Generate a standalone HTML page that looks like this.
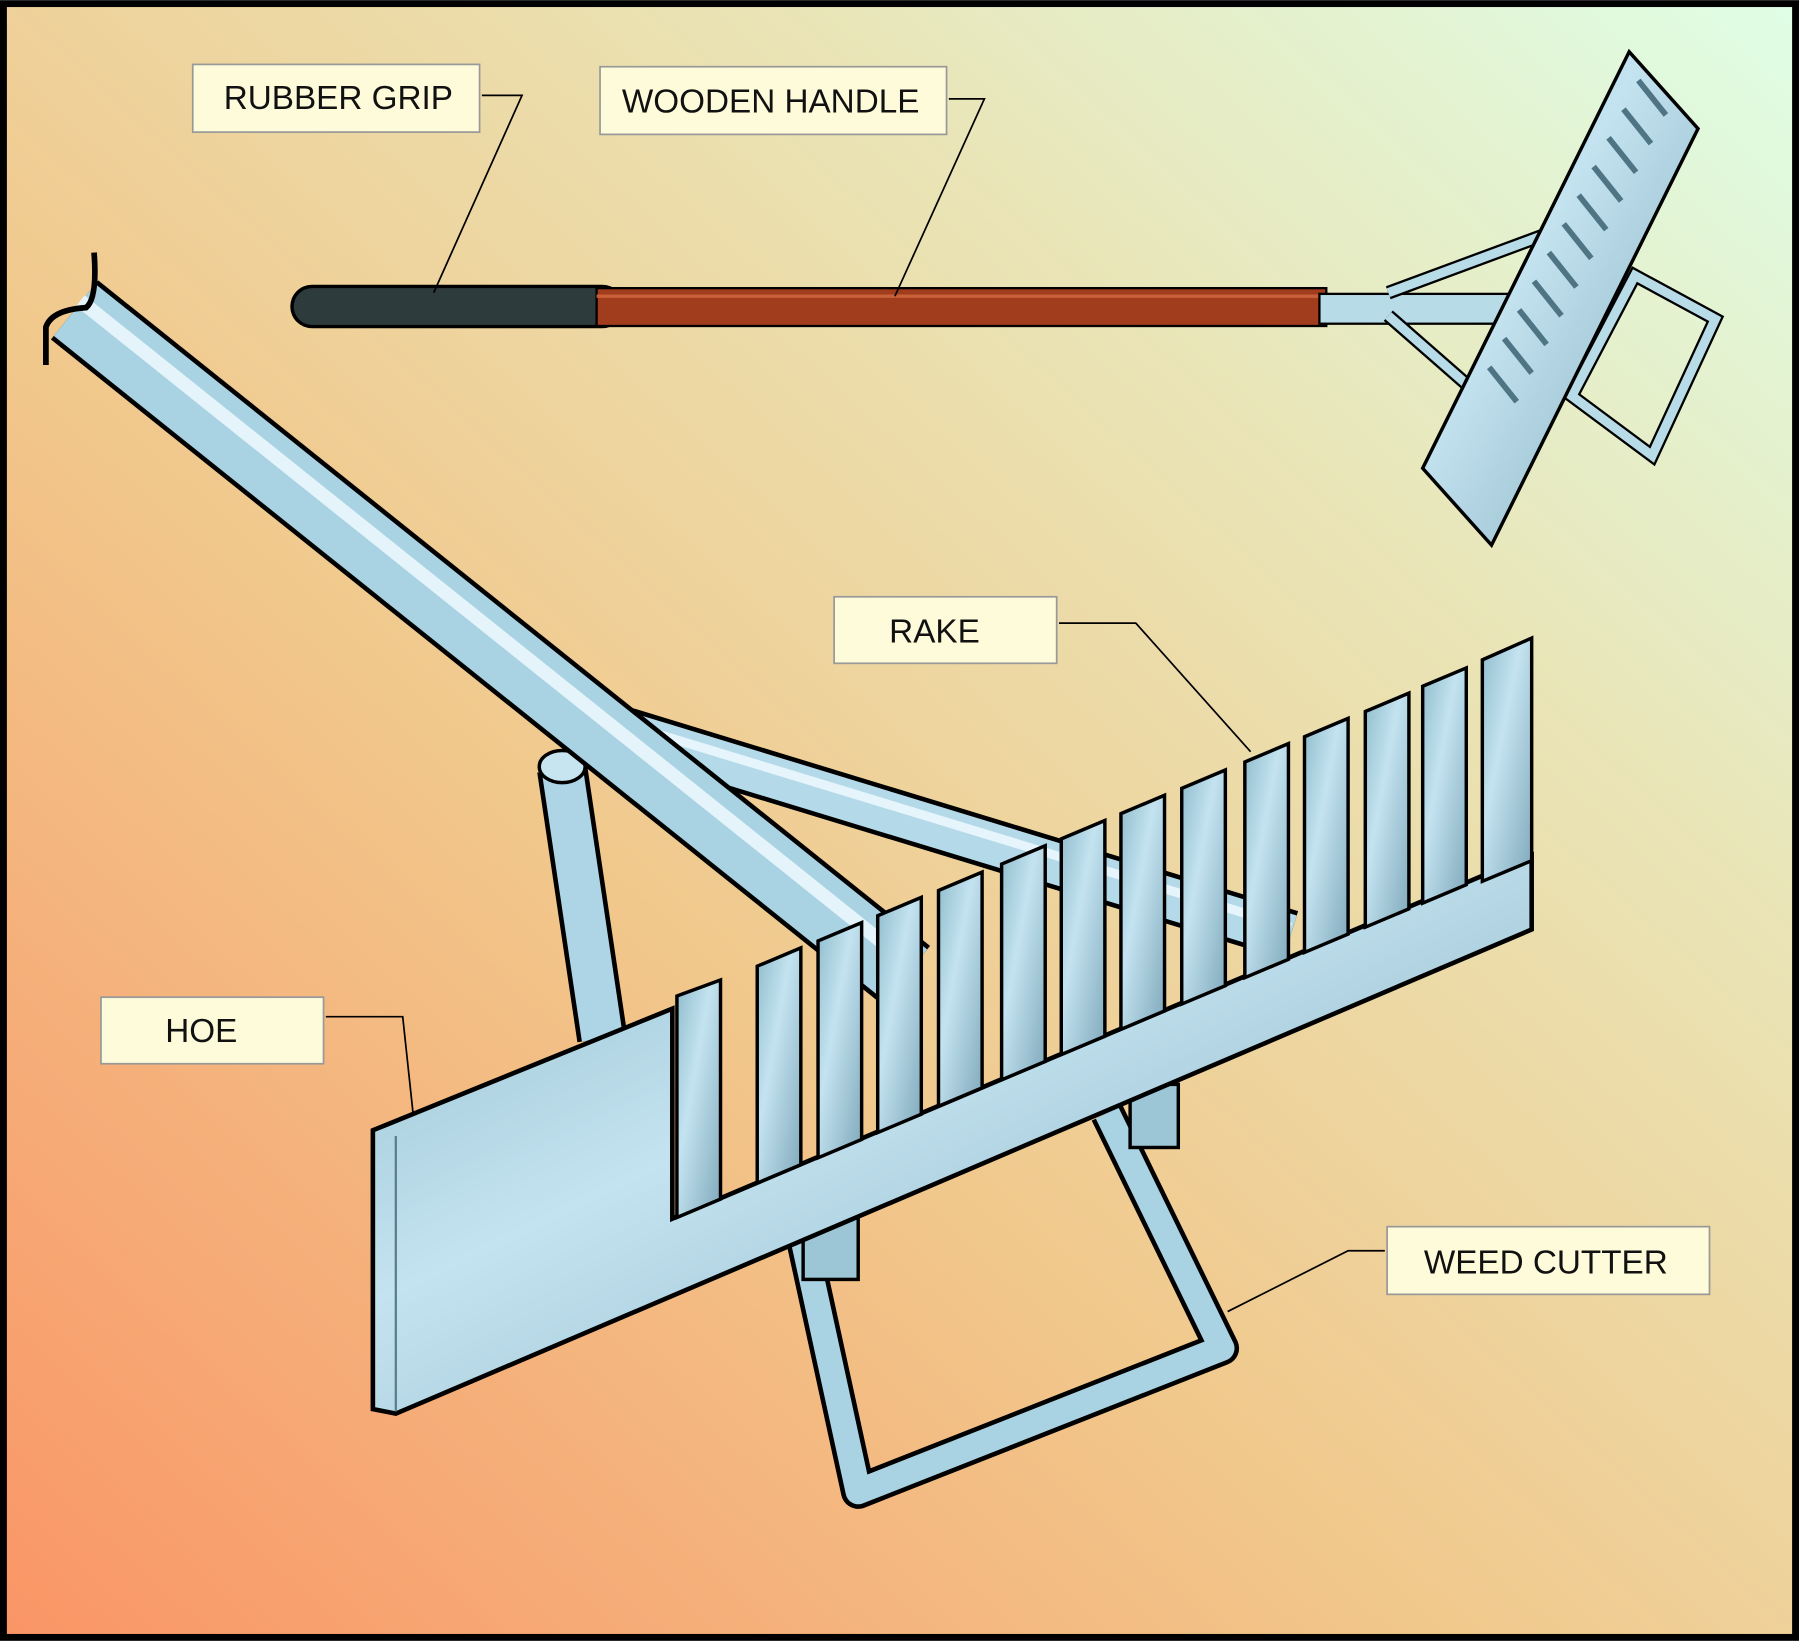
<!DOCTYPE html>
<html><head><meta charset="utf-8"><style>
html,body{margin:0;padding:0;width:1799px;height:1641px;overflow:hidden}
svg{display:block}
text{font-family:"Liberation Sans",sans-serif;font-size:29px;fill:#111}
</style></head><body>
<svg width="1799" height="1641" viewBox="0 0 1568 1430" xmlns="http://www.w3.org/2000/svg">
<defs>
<linearGradient id="bg" x1="0" y1="1" x2="1" y2="0">
<stop offset="0" stop-color="#fa9566"/><stop offset="0.4" stop-color="#f1c88c"/><stop offset="0.7" stop-color="#eae3b4"/><stop offset="1" stop-color="#dffee6"/>
</linearGradient>
<linearGradient id="met" x1="0" y1="0" x2="1" y2="1">
<stop offset="0" stop-color="#8fbccc"/><stop offset="0.4" stop-color="#c4e3f0"/><stop offset="1" stop-color="#7fa9bb"/>
</linearGradient>
</defs>
<rect x="3" y="3" width="1562" height="1424" fill="url(#bg)" stroke="#000" stroke-width="6"/>

<!-- small tool -->
<line x1="272" y1="267" x2="525" y2="267" stroke="#000" stroke-width="38" stroke-linecap="round"/>
<line x1="272" y1="267" x2="525" y2="267" stroke="#2e3b3d" stroke-width="32" stroke-linecap="round"/>
<rect x="520" y="251" width="636" height="33" fill="#a13c1c" stroke="#000" stroke-width="2"/>
<line x1="520" y1="258" x2="1156" y2="258" stroke="#c8603a" stroke-width="3"/>
<rect x="1150" y="256" width="165" height="26" fill="#b8dbe8" stroke="#000" stroke-width="2"/>
<polyline points="1210,255 1345,205 1365,215" fill="none" stroke="#000" stroke-width="12"/>
<polyline points="1210,255 1345,205 1365,215" fill="none" stroke="#b8dbe8" stroke-width="8"/>
<line x1="1210" y1="275" x2="1290" y2="345" stroke="#000" stroke-width="12"/>
<line x1="1210" y1="275" x2="1290" y2="345" stroke="#b8dbe8" stroke-width="8"/>
<polygon points="1425,240 1495,278 1440,397 1370,345" fill="none" stroke="#000" stroke-width="12"/>
<polygon points="1425,240 1495,278 1440,397 1370,345" fill="none" stroke="#b8dbe8" stroke-width="8"/>
<polygon points="1420,45 1480,112 1300,475 1240,408" fill="url(#met)" stroke="#000" stroke-width="3"/>
<g stroke="#4f7585" stroke-width="5">
<line x1="1428" y1="70" x2="1452" y2="100"/><line x1="1415" y1="95" x2="1439" y2="125"/>
<line x1="1402" y1="120" x2="1426" y2="150"/><line x1="1389" y1="145" x2="1413" y2="175"/>
<line x1="1376" y1="170" x2="1400" y2="200"/><line x1="1363" y1="195" x2="1387" y2="225"/>
<line x1="1350" y1="220" x2="1374" y2="250"/><line x1="1337" y1="245" x2="1361" y2="275"/>
<line x1="1324" y1="270" x2="1348" y2="300"/><line x1="1311" y1="295" x2="1335" y2="325"/>
<line x1="1298" y1="320" x2="1322" y2="350"/>
</g>

<!-- big weed cutter loop -->
<path d="M700,1080 L748,1300 L1065,1175 L965,970" fill="none" stroke="#000" stroke-width="30" stroke-linejoin="round"/>
<path d="M700,1080 L748,1300 L1065,1175 L965,970" fill="none" stroke="#a9d2e2" stroke-width="22" stroke-linejoin="round"/>
<rect x="700" y="1060" width="48" height="55" fill="#9cc6d6" stroke="#000" stroke-width="3"/>
<rect x="985" y="945" width="42" height="55" fill="#9cc6d6" stroke="#000" stroke-width="3"/>

<!-- brace and leg -->
<line x1="535" y1="635" x2="1125" y2="815" stroke="#000" stroke-width="44"/>
<line x1="535" y1="635" x2="1125" y2="815" stroke="#b4d9e8" stroke-width="36"/>
<line x1="535" y1="628" x2="1125" y2="808" stroke="#e6f5fb" stroke-width="8"/>
<line x1="490" y1="670" x2="525" y2="905" stroke="#000" stroke-width="44"/>
<line x1="490" y1="670" x2="525" y2="905" stroke="#aed5e5" stroke-width="36"/>
<ellipse cx="490" cy="668" rx="20" ry="14" fill="#c7e5f1" stroke="#000" stroke-width="3"/>
<!-- handle -->
<line x1="65" y1="270" x2="790" y2="850" stroke="#000" stroke-width="66"/>
<line x1="65" y1="270" x2="790" y2="850" stroke="#a9d2e3" stroke-width="58"/>
<line x1="70" y1="262" x2="795" y2="842" stroke="#e4f4fa" stroke-width="12"/>
<path d="M40,318 L40,285 Q45,270 75,268 Q85,260 82,220" fill="none" stroke="#000" stroke-width="5"/>

<!-- head plate -->
<polygon points="325,985 586,879 586,1062 1335,745 1335,810 345,1232 325,1228" fill="url(#met)" stroke="#000" stroke-width="4"/>
<line x1="345" y1="990" x2="345" y2="1230" stroke="#5a8090" stroke-width="2"/>
<g fill="url(#met)" stroke="#000" stroke-width="3">
<polygon points="590,868 628,854 628,1045 590,1061"/>
<polygon points="660,842 698,826 698,1015 660,1031"/>
<polygon points="713,820 751,804 751,993 713,1009"/>
<polygon points="765,798 803,782 803,971 765,987"/>
<polygon points="818,776 856,760 856,948 818,964"/>
<polygon points="873,753 911,737 911,925 873,941"/>
<polygon points="925,731 963,715 963,903 925,919"/>
<polygon points="977,709 1015,693 1015,881 977,897"/>
<polygon points="1030,687 1068,671 1068,859 1030,875"/>
<polygon points="1085,664 1123,648 1123,836 1085,852"/>
<polygon points="1137,642 1175,626 1175,814 1137,830"/>
<polygon points="1190,620 1228,604 1228,792 1190,808"/>
<polygon points="1240,598 1278,582 1278,771 1240,787"/>
<polygon points="1292,575 1335,556 1335,750 1292,768"/>
</g>

<!-- labels -->
<g fill="#fdfbd9" stroke="#999" stroke-width="1.5">
<rect x="168" y="56" width="250" height="59"/>
<rect x="523" y="58" width="302" height="59"/>
<rect x="727" y="520" width="194" height="58"/>
<rect x="88" y="869" width="194" height="58"/>
<rect x="1209" y="1069" width="281" height="59"/>
</g>
<text x="195" y="95">RUBBER GRIP</text>
<text x="542" y="98">WOODEN HANDLE</text>
<text x="775" y="560">RAKE</text>
<text x="144" y="908">HOE</text>
<text x="1241" y="1110">WEED CUTTER</text>
<g fill="none" stroke="#000" stroke-width="1.5">
<polyline points="420,83 455,83 378,255"/>
<polyline points="827,86 858,86 780,258"/>
<polyline points="923,543 990,543 1090,655"/>
<polyline points="284,886 351,886 360,970"/>
<polyline points="1207,1090 1175,1090 1070,1143"/>
</g>
</svg>
</body></html>
